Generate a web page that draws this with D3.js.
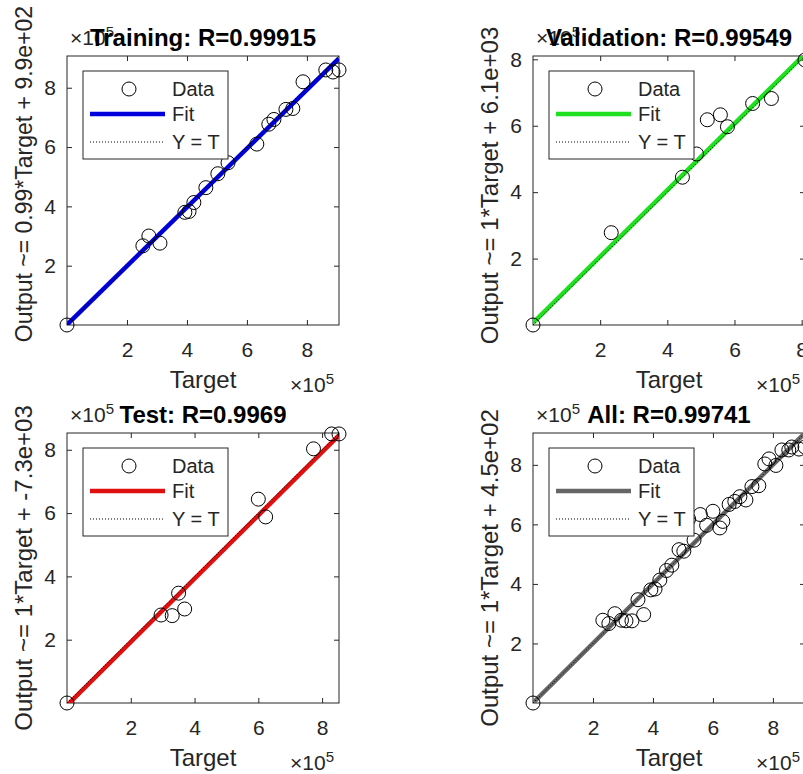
<!DOCTYPE html>
<html>
<head>
<meta charset="utf-8">
<script src="https://cdn.jsdelivr.net/npm/d3@7/dist/d3.min.js"></script>
<style>
  html, body { margin: 0; padding: 0; background: #fff; }
  svg { display: block; }
  text { font-family: "Liberation Sans", Arial, Helvetica, sans-serif; }
</style>
</head>
<body>
<svg id="chart" width="803" height="774"></svg>
<script>
// ---- Data (units: ×10^5) ----
const trainTarget = [0.00, 2.53, 2.73, 3.10, 3.93, 4.07, 4.23, 4.63, 5.03, 5.37, 6.33, 6.73, 6.90, 7.30, 7.53, 7.87, 8.63, 8.87, 9.07];
const trainOutput = [0.00, 2.67, 3.00, 2.76, 3.80, 3.83, 4.13, 4.63, 5.10, 5.47, 6.10, 6.77, 6.93, 7.27, 7.30, 8.20, 8.60, 8.53, 8.60];

const valTarget = [0.00, 2.33, 4.45, 4.87, 5.19, 5.58, 5.79, 6.54, 7.10, 8.10];
const valOutput = [0.00, 2.78, 4.45, 5.15, 6.18, 6.33, 5.97, 6.67, 6.82, 7.98];

const testTarget = [0.00, 2.95, 3.30, 3.50, 3.69, 6.00, 6.23, 7.73, 8.30, 8.53];
const testOutput = [0.00, 2.78, 2.76, 3.47, 2.97, 6.44, 5.88, 8.03, 8.50, 8.50];

// All panel (one marker at the origin)
const allTarget = [0.00, 2.33, 2.53, 2.73, 2.95, 3.10, 3.30, 3.50, 3.69, 3.93, 4.07, 4.23, 4.45, 4.63, 4.87, 5.03,
                   5.19, 5.37, 5.58, 5.79, 6.00, 6.23, 6.33, 6.54, 6.73, 6.90, 7.10, 7.30, 7.53, 7.73, 7.87,
                   8.10, 8.30, 8.53, 8.63, 8.87, 9.07];
const allOutput = [0.00, 2.78, 2.67, 3.00, 2.78, 2.76, 2.76, 3.47, 2.97, 3.80, 3.83, 4.13, 4.45, 4.63, 5.15, 5.10,
                   6.18, 5.47, 6.33, 5.97, 6.44, 5.88, 6.10, 6.67, 6.77, 6.93, 6.82, 7.27, 7.30, 8.03, 8.20,
                   7.98, 8.50, 8.50, 8.60, 8.53, 8.60];

const titles = ["Training: R=0.99915", "Validation: R=0.99549", "Test: R=0.9969", "All: R=0.99741"];
const yLabels = ["Output ~= 0.99*Target + 9.9e+02", "Output ~= 1*Target + 6.1e+03",
                 "Output ~= 1*Target + -7.3e+03", "Output ~= 1*Target + 4.5e+02"];
const slopes = [0.99, 1, 1, 1];
const intercepts = [990, 6100, -7300, 450];           // in raw units
const limits = [[0, 9.07], [0, 8.10], [0, 8.53], [0, 9.07]];  // ×10^5
const tickValues = [2, 4, 6, 8];
const tickLabels = ["2", "4", "6", "8"];
const legendLabels = ["Data", "Fit", "Y = T"];
const fitColors = ["#0000dd", "#1ee01e", "#e01010", "#666666"];

const datasets = [
  [trainTarget, trainOutput],
  [valTarget, valOutput],
  [testTarget, testOutput],
  [allTarget, allOutput]
];

// ---- Layout ----
const boxes = [
  {x: 67,  y: 56,  w: 272, h: 269, labelDy: -16.5, labelSize: 23},
  {x: 533, y: 56,  w: 272, h: 269, labelDy: -5, labelSize: 24},
  {x: 67,  y: 433, w: 272, h: 270, labelDy: 0, labelSize: 24},
  {x: 533, y: 433, w: 272, h: 270, labelDy: 0, labelSize: 24}
];
const axisColor = "#262626";

const svg = d3.select("#chart");
svg.append("rect").attr("width", 803).attr("height", 774).attr("fill", "#fff");

boxes.forEach((b, i) => {
  const g = svg.append("g").attr("transform", `translate(${b.x},${b.y})`);
  const x = d3.scaleLinear().domain(limits[i]).range([0, b.w]);
  const y = d3.scaleLinear().domain(limits[i]).range([b.h, 0]);
  const fmt = (d) => tickLabels[tickValues.indexOf(d)];

  const clipId = "clip" + i;
  g.append("clipPath").attr("id", clipId)
    .append("rect").attr("width", b.w).attr("height", b.h);

  const styleAxis = (sel) => {
    sel.select(".domain").remove();
    sel.selectAll("line").attr("stroke", axisColor);
    sel.selectAll("text").attr("fill", axisColor).style("font-size", "21px")
      .style("font-family", '"Liberation Sans", Arial, sans-serif');
  };
  g.append("g").attr("transform", `translate(0,${b.h})`)
    .call(d3.axisBottom(x).tickValues(tickValues).tickFormat(fmt).tickSizeInner(-5).tickSizeOuter(0).tickPadding(17))
    .call(styleAxis);
  g.append("g")
    .call(d3.axisTop(x).tickValues(tickValues).tickFormat("").tickSizeInner(-5).tickSizeOuter(0))
    .call(styleAxis);
  g.append("g")
    .call(d3.axisLeft(y).tickValues(tickValues).tickFormat(fmt).tickSizeInner(-5).tickSizeOuter(0).tickPadding(11))
    .call(styleAxis);
  g.append("g").attr("transform", `translate(${b.w},0)`)
    .call(d3.axisRight(y).tickValues(tickValues).tickFormat("").tickSizeInner(-5).tickSizeOuter(0))
    .call(styleAxis);

  g.append("rect").attr("width", b.w).attr("height", b.h)
    .attr("fill", "none").attr("stroke", axisColor).attr("stroke-width", 1);

  const [lo, hi] = limits[i];
  const fitY = (t) => slopes[i] * t + intercepts[i] / 1e5;
  const plotArea = g.append("g").attr("clip-path", `url(#${clipId})`);
  plotArea.append("line")
    .attr("x1", x(lo)).attr("y1", y(fitY(lo)))
    .attr("x2", x(hi)).attr("y2", y(fitY(hi)))
    .attr("stroke", fitColors[i]).attr("stroke-width", 4.5);
  plotArea.append("line")
    .attr("x1", x(lo)).attr("y1", y(lo))
    .attr("x2", x(hi)).attr("y2", y(hi))
    .attr("stroke", "#000").attr("stroke-width", 1).attr("stroke-dasharray", "1,2");

  const [T, Y] = datasets[i];
  g.append("g").selectAll("circle").data(T.map((t, k) => [t, Y[k]])).join("circle")
    .attr("cx", d => x(d[0])).attr("cy", d => y(d[1])).attr("r", 7)
    .attr("fill", "none").attr("stroke", "#000").attr("stroke-width", 1);

  // exponent labels
  const yExp = g.append("text").attr("x", 3).attr("y", -11).attr("fill", axisColor).style("font-size", "21px");
  yExp.append("tspan").text("×10");
  yExp.append("tspan").attr("dy", -8).style("font-size", "15px").text("5");
  const xExp = g.append("text").attr("x", b.w - 5).attr("y", b.h + 67).attr("text-anchor", "end")
    .attr("fill", axisColor).style("font-size", "21px");
  xExp.append("tspan").text("×10");
  xExp.append("tspan").attr("dy", -8).style("font-size", "15px").text("5");

  // axis labels
  g.append("text").attr("x", b.w / 2).attr("y", b.h + 63).attr("text-anchor", "middle")
    .attr("fill", axisColor).style("font-size", "24px").text("Target");
  g.append("text")
    .attr("transform", `translate(-35,${b.h / 2 + b.labelDy}) rotate(-90)`)
    .attr("text-anchor", "middle").attr("fill", axisColor).style("font-size", b.labelSize + "px")
    .text(yLabels[i]);

  // title (drawn over the exponent label, as in the reference)
  g.append("text").attr("x", b.w / 2).attr("y", -10).attr("text-anchor", "middle")
    .attr("fill", "#000").style("font-size", "24px").style("font-weight", "bold")
    .text(titles[i]);

  // legend
  const lg = g.append("g").attr("transform", "translate(16,15)");
  lg.append("rect").attr("width", 145).attr("height", 88)
    .attr("fill", "#fff").attr("stroke", axisColor).attr("stroke-width", 1);
  lg.append("circle").attr("cx", 46).attr("cy", 18).attr("r", 7)
    .attr("fill", "none").attr("stroke", "#000").attr("stroke-width", 1);
  lg.append("line").attr("x1", 7).attr("x2", 82).attr("y1", 43).attr("y2", 43)
    .attr("stroke", fitColors[i]).attr("stroke-width", 4.5);
  lg.append("line").attr("x1", 7).attr("x2", 82).attr("y1", 71).attr("y2", 71)
    .attr("stroke", "#000").attr("stroke-width", 1).attr("stroke-dasharray", "1,2");
  const rowY = [25, 50, 78];
  legendLabels.forEach((s, k) => {
    lg.append("text").attr("x", 89).attr("y", rowY[k]).attr("fill", axisColor)
      .style("font-size", "20px").text(s);
  });
});
</script>
</body>
</html>
